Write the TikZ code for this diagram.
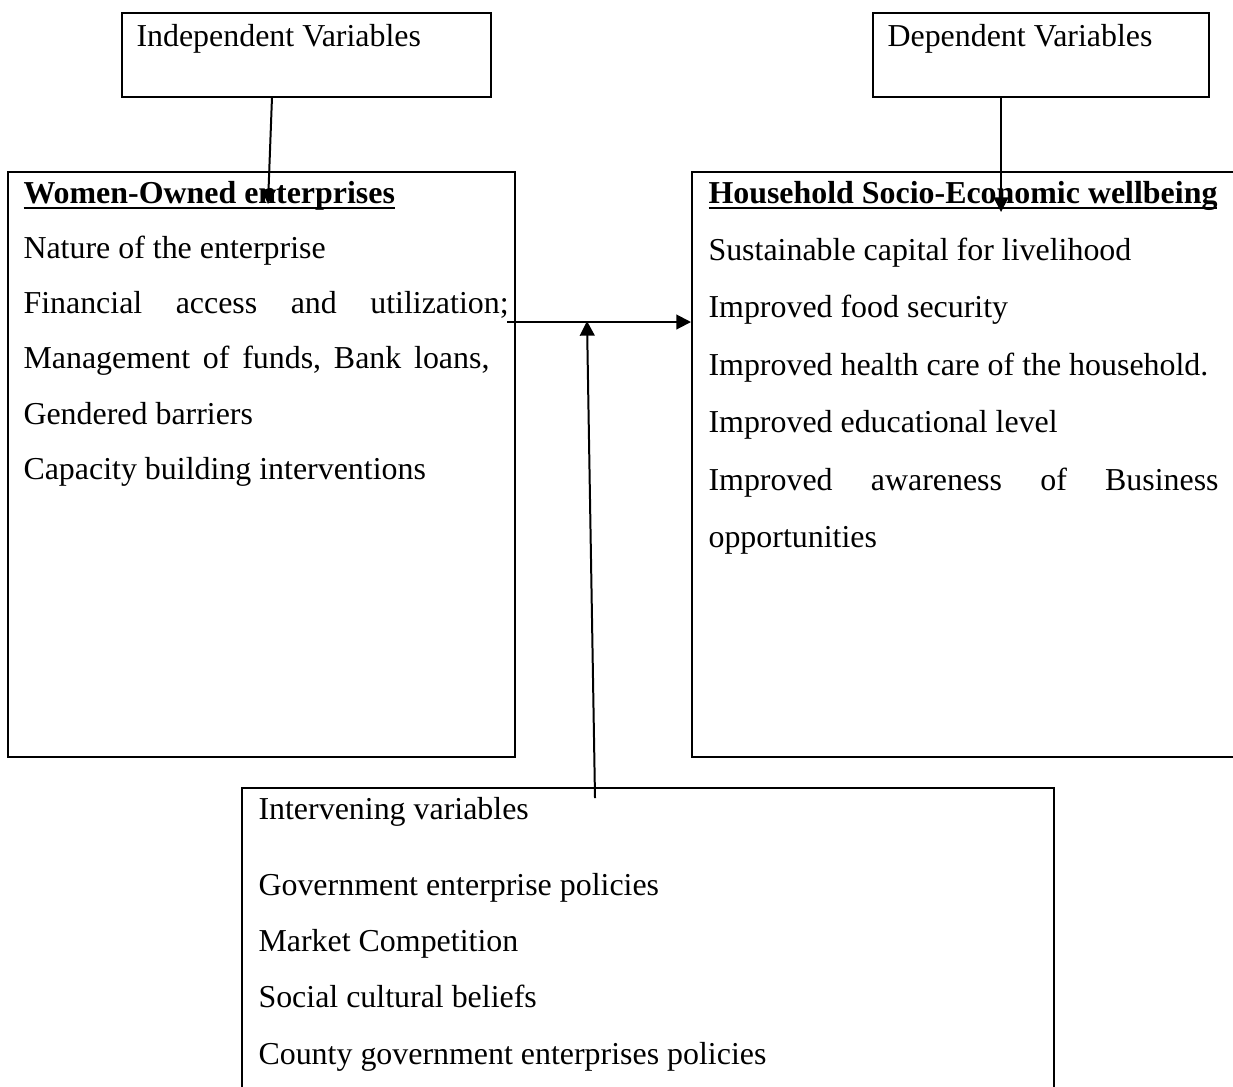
\documentclass[tikz,border=0pt]{standalone}
\usepackage{fontspec}
\setmainfont{Liberation Serif}
\usetikzlibrary{arrows.meta,fit}

% bold heading with a rule under it
\newsavebox\headbox
\newcommand\ulhead[1]{\sbox\headbox{\textbf{#1}}\rlap{\rule[-2.4pt]{\wd\headbox}{0.75pt}}\usebox\headbox}

\tikzset{
  varbox/.style={draw,line width=0.75pt,inner sep=0pt},
  vartext/.style={anchor=base west,inner sep=0pt,text width=250pt,align=flush left,font=\fontsize{12}{20.8}\selectfont},
  link/.style={-{Triangle[length=5.5pt,width=5.5pt]},line width=0.75pt}
}

\begin{document}
\begin{tikzpicture}[x=0.376pt,y=-0.376pt]
      \useasboundingbox (0,0) rectangle (1233,1086);
      % boxes
      \node[varbox,fit={(122,13) (491,97)}] (indep) {};
      \node[varbox,fit={(873,13) (1209,97)}] (dep) {};
      \node[varbox,fit={(8,172) (515,757)}] (women) {};
      \node[varbox,fit={(692,172) (1250,757)}] (house) {};
      \node[varbox,fit={(242,788) (1054,1100)}] (interv) {};
      % texts
      \node[vartext] (indeptxt) at (136,46) {Independent Variables};
      \node[vartext] (deptxt) at (887,46) {Dependent Variables};
      \node[vartext] (womentxt) at (23,203) {\ulhead{Women-Owned enterprises}\\
        Nature of the enterprise\\
        \makebox[182.4pt]{Financial\hfill access\hfill and\hfill utilization;}\\
        \makebox[175.2pt]{Management\hfill of\hfill funds,\hfill Bank\hfill loans,}\\
        Gendered barriers\\
        Capacity building interventions};
      \node[vartext,font=\fontsize{12}{21.6}\selectfont] (housetxt) at (708,203) {\ulhead{Household Socio-Economic wellbeing}\\
        Sustainable capital for livelihood\\
        Improved food security\\
        Improved health care of the household.\\
        Improved educational level\\
        \makebox[191.8pt]{Improved\hfill awareness\hfill of\hfill Business}\\
        opportunities};
      \node[vartext,font=\fontsize{12}{21.2}\selectfont] (intervtxt) at (258,819) {Intervening variables\\[7.4pt]
        Government enterprise policies\\
        Market Competition\\
        Social cultural beliefs\\
        County government enterprises policies};
      % arrow ends
      \coordinate (itail) at (272,97);
      \coordinate (ihead) at (268,204);
      \coordinate (dtail) at (1001,97);
      \coordinate (dhead) at (1001,212);
      \coordinate (htail) at (507,322);
      \coordinate (vtail) at (595,798);
      \coordinate (vhead) at (587,321);
      \draw[link] (itail) -- (ihead);
      \draw[link] (dtail) -- (dhead);
      \draw[link] (htail) -- (htail -| house.west);
      \draw[link] (vtail) -- (vhead);
    \end{tikzpicture}
\end{document}
